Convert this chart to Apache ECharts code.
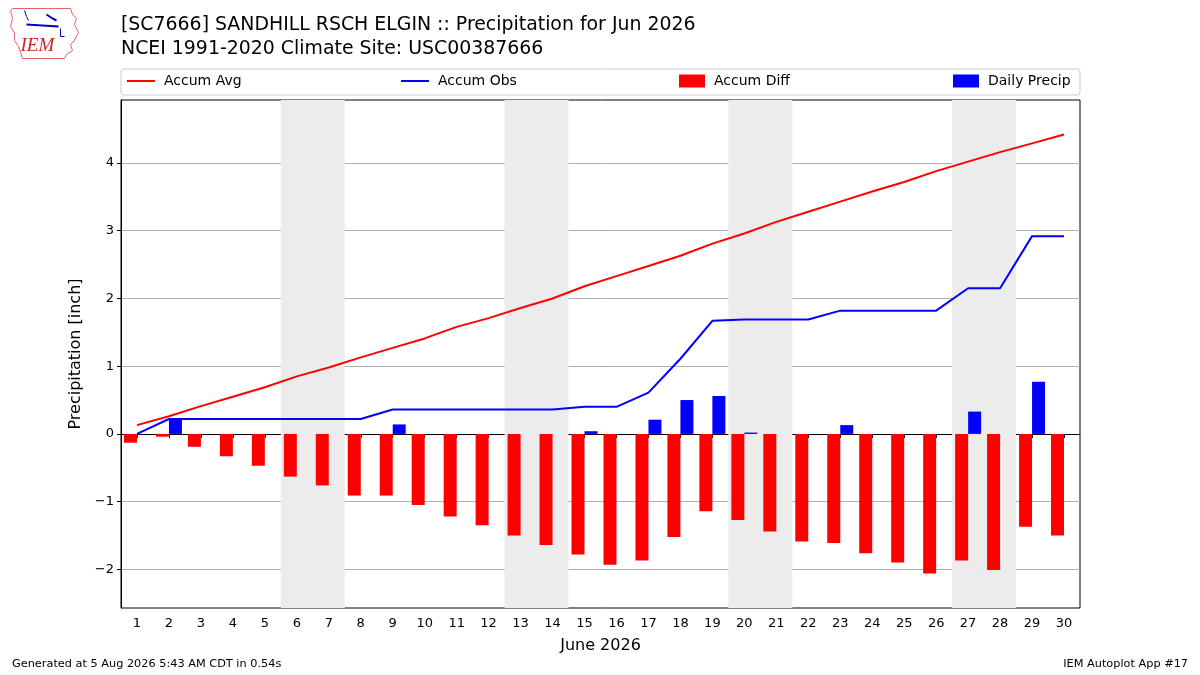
<!DOCTYPE html>
<html><head><meta charset="utf-8">
<script src="https://cdn.jsdelivr.net/npm/echarts@6/dist/echarts.min.js"></script>
<style>html,body{margin:0;padding:0;background:#fff}#c{width:1200px;height:675px}</style>
</head><body><div id="c"></div>
<script>
const days = Array.from({length:30}, (_, i) => String(i + 1));
const accumAvg = [0.13,0.26,0.41,0.55,0.69,0.85,0.98,1.13,1.27,1.41,1.58,1.71,1.86,2.00,2.18,2.33,2.48,2.63,2.81,2.96,3.13,3.28,3.43,3.58,3.72,3.88,4.02,4.16,4.29,4.42];
const accumObs = [0,0.22,0.22,0.22,0.22,0.22,0.22,0.22,0.36,0.36,0.36,0.36,0.36,0.36,0.40,0.40,0.61,1.11,1.67,1.69,1.69,1.69,1.82,1.82,1.82,1.82,2.15,2.15,2.92,2.92];
const accumDiff = [-0.13,-0.04,-0.19,-0.33,-0.47,-0.63,-0.76,-0.91,-0.91,-1.05,-1.22,-1.35,-1.50,-1.64,-1.78,-1.93,-1.87,-1.52,-1.14,-1.27,-1.44,-1.59,-1.61,-1.76,-1.90,-2.06,-1.87,-2.01,-1.37,-1.50];
const dailyPrecip = [0,0.22,0,0,0,0,0,0,0.14,0,0,0,0,0,0.04,0,0.21,0.50,0.56,0.02,0,0,0.13,0,0,0,0.33,0,0.77,0];
const weekendDays = [6,7,13,14,20,21,27,28];
const yTicks = [-2,-1,0,1,2,3,4];

const FONT = 'DejaVu Sans';
const chart = echarts.init(document.getElementById('c'), null, {renderer:'canvas'});

const spans = [];
for (let i = 0; i < weekendDays.length; i += 2) {
  spans.push([{xAxis: weekendDays[i] - 0.5}, {xAxis: weekendDays[i+1] + 0.5}]);
}

const legendBase = {top: 74, padding:0, itemGap: 9, textStyle:{fontFamily:FONT, fontSize:14, color:'#000', padding:[0,0,0,4]}, selectedMode:false};

chart.setOption({
  animation:false,
  backgroundColor:'#fff',
  textStyle:{fontFamily:FONT},
  title:{
    text:'[SC7666] SANDHILL RSCH ELGIN :: Precipitation for Jun 2026\nNCEI 1991-2020 Climate Site: USC00387666',
    left:116, top:8,
    textStyle:{fontFamily:FONT, fontSize:18.9, fontWeight:'normal', color:'#000', lineHeight:24}
  },
  legend:[
    Object.assign({}, legendBase, {left:127, data:[{name:'Accum Avg', icon:'rect'}], itemWidth:28, itemHeight:2}),
    Object.assign({}, legendBase, {left:401, data:[{name:'Accum Obs', icon:'rect'}], itemWidth:28, itemHeight:2}),
    Object.assign({}, legendBase, {left:679, data:[{name:'Accum Diff', icon:'rect'}], itemWidth:26, itemHeight:13}),
    Object.assign({}, legendBase, {left:953, data:[{name:'Daily Precip', icon:'rect'}], itemWidth:26, itemHeight:13})
  ],
  grid:{left:121, right:120, top:100, bottom:67, show:true, borderColor:'#000', borderWidth:1, backgroundColor:'transparent'},
  xAxis:[
    {type:'category', data:days, boundaryGap:true,
     name:'June 2026', nameLocation:'middle', nameGap:30,
     nameTextStyle:{fontFamily:FONT, fontSize:16, color:'#000'},
     axisLine:{show:true, lineStyle:{color:'#000'}},
     axisTick:{show:true, alignWithLabel:true, length:4, lineStyle:{color:'#000'}},
     axisLabel:{color:'#000', fontSize:13, fontFamily:FONT, margin:9, interval:0},
     splitLine:{show:false}},
    {type:'value', min:0.5, max:30.5, show:false}
  ],
  yAxis:{type:'value', min:-2.57, max:4.93,
    name:'Precipitation [inch]', nameLocation:'middle', nameGap:37,
    nameTextStyle:{fontFamily:FONT, fontSize:16, color:'#000'},
    axisLine:{show:true, lineStyle:{color:'#000'}},
    axisTick:{show:true, length:4, lineStyle:{color:'#000'}, customValues:yTicks},
    axisLabel:{color:'#000', fontSize:13, fontFamily:FONT, margin:7, customValues:yTicks,
      formatter:v => String(v).replace('-', '\u2212')},
    splitLine:{show:true, lineStyle:{color:'#b0b0b0', width:1}}
  },
  series:[
    {name:'shade', type:'line', xAxisIndex:1, data:[], z:0, silent:true,
     markArea:{silent:true, itemStyle:{color:'#ececec'}, data:spans}},
    {name:'Accum Avg', type:'line', data:accumAvg, showSymbol:false, symbol:'none',
     lineStyle:{color:'#ff0000', width:2}, itemStyle:{color:'#ff0000'}, z:5},
    {name:'Accum Obs', type:'line', data:accumObs, showSymbol:false, symbol:'none',
     lineStyle:{color:'#0000ff', width:2}, itemStyle:{color:'#0000ff'}, z:5},
    {name:'Accum Diff', type:'bar', data:accumDiff, barWidth:13, barGap:'0%',
     itemStyle:{color:'#ff0000'}, z:3},
    {name:'Daily Precip', type:'bar', data:dailyPrecip, barWidth:13, barGap:'0%',
     itemStyle:{color:'#0000ff'}, z:3}
  ],
  graphic:[
    {type:'rect', shape:{x:121, y:69, width:959, height:26, r:3}, style:{fill:'none', stroke:'#cccccc', lineWidth:1}, z:-1},
    {type:'text', left:12, top:659, style:{text:'Generated at 5 Aug 2026 5:43 AM CDT in 0.54s', font:'11.3px "DejaVu Sans"', fill:'#000'}},
    {type:'text', right:12, top:659, style:{text:'IEM Autoplot App #17', font:'11.3px "DejaVu Sans"', fill:'#000'}},
    {type:'group', left:8, top:6, children:[
      {type:'polyline', shape:{points:[[4,2],[62,2],[64,8],[68,12],[66,18],[70,26],[66,34],[62,38],[64,44],[58,48],[56,52],[14,52],[12,46],[10,40],[6,34],[6,26],[2,20],[4,12],[2,4],[4,2]]},
       style:{stroke:'#e06666', lineWidth:1, fill:'none'}},
      {type:'polyline', shape:{points:[[18,18],[50,20]]}, style:{stroke:'#0000cc', lineWidth:2}},
      {type:'polyline', shape:{points:[[16,4],[18,10],[20,14]]}, style:{stroke:'#0000cc', lineWidth:1}},
      {type:'polyline', shape:{points:[[38,8],[44,12],[48,14]]}, style:{stroke:'#0000cc', lineWidth:2}},
      {type:'polyline', shape:{points:[[52,22],[52,30],[56,30]]}, style:{stroke:'#0000cc', lineWidth:1}},
      {type:'text', x:12, y:30, style:{text:'IEM', font:'italic 19px "Liberation Serif"', fill:'#cc2222'}}
    ]}
  ]
});
</script></body></html>
